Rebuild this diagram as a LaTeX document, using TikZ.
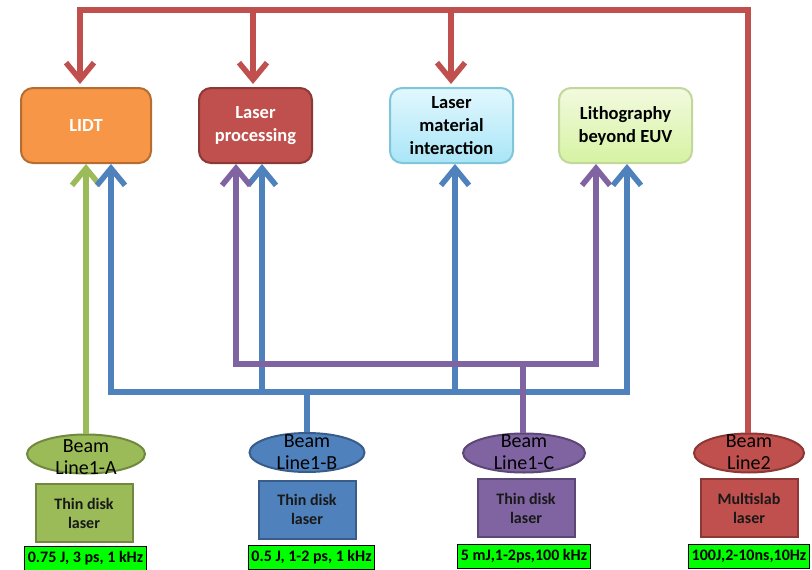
\documentclass[tikz,border=0pt]{standalone}
\usepackage{fontspec}
\setmainfont{Carlito}
\usetikzlibrary{shapes.geometric,arrows.meta}
\definecolor{cRed}{HTML}{C0504D}
\definecolor{cRedD}{HTML}{8C3836}
\definecolor{cBlue}{HTML}{4F81BD}
\definecolor{cBlueD}{HTML}{385D8A}
\definecolor{cPurple}{HTML}{8064A2}
\definecolor{cPurpleD}{HTML}{5C4776}
\definecolor{cGreen}{HTML}{9BBB59}
\definecolor{cGreenD}{HTML}{71893F}
\definecolor{cOrange}{HTML}{F79646}
\definecolor{cOrangeD}{HTML}{B66D31}
\definecolor{cCyanT}{HTML}{E2F8FE}
\definecolor{cCyanB}{HTML}{A9E5F7}
\definecolor{cCyanD}{HTML}{7FC6DA}
\definecolor{cLimeT}{HTML}{F2FADF}
\definecolor{cLimeB}{HTML}{D6F3A2}
\definecolor{cLimeD}{HTML}{C3D69B}
\definecolor{cLabel}{HTML}{00FF00}
\begin{document}
\begin{tikzpicture}[x=1pt,y=-1pt,
  topbox/.style={draw, rounded corners=12pt, line width=2pt, minimum height=75pt,
    align=center, inner sep=1pt, font=\bfseries\fontsize{18.5}{23}\selectfont},
  ell/.style={ellipse, draw, line width=2pt, minimum width=118pt, minimum height=39pt, inner sep=0pt},
  elltext/.style={align=center, text=black, inner sep=0pt, font=\fontsize{20}{22}\selectfont},
  srcbox/.style={draw, line width=2pt, minimum width=97pt, minimum height=58pt, align=center,
    text=black!90, font=\bfseries\fontsize{16}{19}\selectfont},
  specbox/.style={draw=black, fill=cLabel, line width=0.8pt, minimum height=24pt, inner xsep=3pt,
    inner ysep=2pt, font=\bfseries\fontsize{16}{18}\selectfont},
  link/.style={line width=5.5pt, line join=miter},
  tip/.style={-{Straight Barb[length=17pt,width=28pt]}}
]
\clip (0,0) rectangle (812,570);
\fill[white] (0,0) rectangle (812,570);

% top boxes
\node[topbox, fill=cOrange, draw=cOrangeD, text=white, minimum width=130pt] (lidt) at (86,125.5) {LIDT};
\node[topbox, fill=cRed, draw=cRedD, text=white, minimum width=113pt] (lp) at (255.5,125.5) {Laser\\processing};
\node[topbox, top color=cCyanT, bottom color=cCyanB, draw=cCyanD, minimum width=123pt] (lmi) at (451.5,125.5) {Laser\\material\\interaction};
\node[topbox, top color=cLimeT, bottom color=cLimeB, draw=cLimeD, minimum width=133pt] (litho) at (625.5,125.5) {Lithography\\beyond EUV};

% beam line ellipses
\node[ell, fill=cGreen, draw=cGreenD] (eA) at (86,454) {};
\node[elltext] (tA) at (86,457) {Beam\\Line1-A};
\node[ell, fill=cBlue, draw=cBlueD, minimum width=115pt] (eB) at (307,452.5) {};
\node[elltext] (tB) at (307,452) {Beam\\Line1-B};
\node[ell, fill=cPurple, draw=cPurpleD, minimum width=122pt] (eC) at (524,453) {};
\node[elltext] (tC) at (524,452) {Beam\\Line1-C};
\node[ell, fill=cRed, draw=cRedD, minimum width=110pt] (eD) at (749,453) {};
\node[elltext] (tD) at (749,452) {Beam\\Line2};

% laser boxes
\node[srcbox, fill=cGreen, draw=cGreenD] (sA) at (84,513) {Thin disk\\laser};
\node[srcbox, fill=cBlue, draw=cBlueD] (sB) at (307,509.5) {Thin disk\\laser};
\node[srcbox, fill=cPurple, draw=cPurpleD] (sC) at (526,508) {Thin disk\\laser};
\node[srcbox, fill=cRed, draw=cRedD] (sD) at (749,508) {Multislab\\laser};

% spec labels
\node[specbox] (pA) at (85.5,558) {0.75 J, 3 ps, 1 kHz};
\node[specbox] (pB) at (311.5,557) {0.5 J, 1-2 ps, 1 kHz};
\node[specbox] (pC) at (524,556.5) {5 mJ,1-2ps,100 kHz};
\node[specbox] (pD) at (749,556.5) {100J,2-10ns,10Hz};

% bus coordinates
\coordinate (bA) at (111,392);
\coordinate (bB) at (307,392);
\coordinate (bL) at (262,392);
\coordinate (bM) at (455,392);
\coordinate (bD) at (627,392);
\coordinate (qA) at (236,364);
\coordinate (qC) at (523,364);
\coordinate (qD) at (596,364);
\coordinate (rA) at (80,10);
\coordinate (rB) at (253,10);
\coordinate (rC) at (451,10);
\coordinate (rD) at (748,10);

% green line
\draw[link, cGreen, tip] (eA.north) -- (eA.north |- lidt.south);

% blue lines
\draw[link, cBlue] (eB.north) -- (bB);
\draw[link, cBlue, tip] (bB) -- (bA) -- (bA |- lidt.south);
\draw[link, cBlue, tip] (bB) -- (bD) -- (bD |- litho.south);
\draw[link, cBlue, tip] (bL) -- (bL |- lp.south);
\draw[link, cBlue, tip] (bM) -- (bM |- lmi.south);

% purple lines
\draw[link, cPurple] (eC.north -| qC) -- (qC);
\draw[link, cPurple, tip] (qC) -- (qA) -- (qA |- lp.south);
\draw[link, cPurple, tip] (qC) -- (qD) -- (qD |- litho.south);

% red lines
\draw[link, cRed, tip, shorten >=3pt] (eD.north -| rD) -- (rD) -- (rA) -- (rA |- lidt.north);
\draw[link, cRed, tip, shorten >=3pt] (rB) -- (rB |- lp.north);
\draw[link, cRed, tip, shorten >=3pt] (rC) -- (rC |- lmi.north);
\end{tikzpicture}
\end{document}
